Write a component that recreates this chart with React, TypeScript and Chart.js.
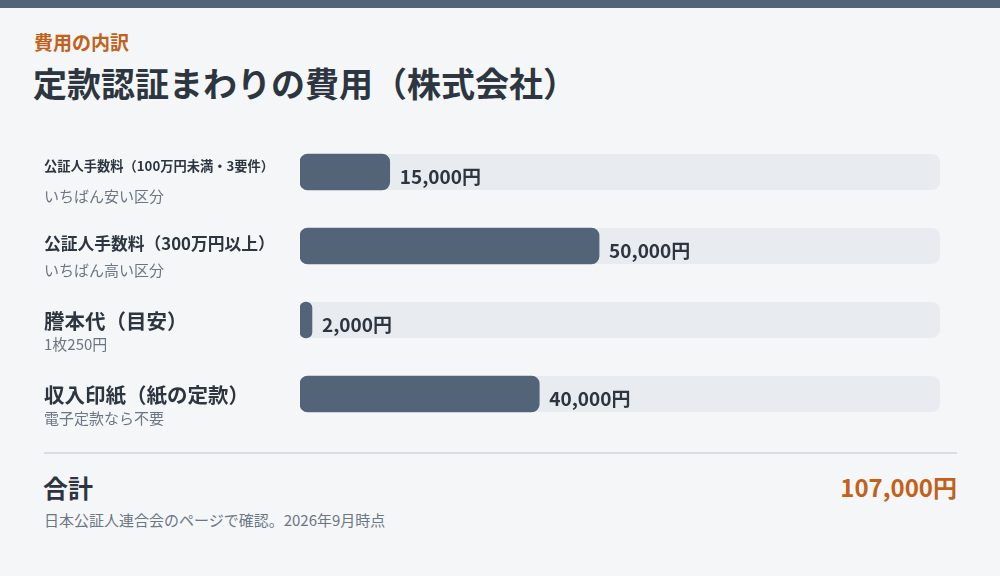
import { useEffect, useRef } from 'react';
import { Chart, registerables } from 'chart.js';

Chart.register(...registerables);

const labels = [
  '公証人手数料（100万円未満・3要件）',
  '公証人手数料（300万円以上）',
  '謄本代（目安）',
  '収入印紙（紙の定款）',
];
const notes = ['いちばん安い区分', 'いちばん高い区分', '1枚250円', '電子定款なら不要'];
const costs = [15000, 50000, 2000, 40000];
const total = 107000;

const FONT = '"Noto Sans CJK JP", "Noto Sans", sans-serif';
const COLORS = {
  bg: '#f5f6f8',
  strip: '#536479',
  bar: '#536479',
  track: '#e8ecf0',
  ink: '#2d3640',
  muted: '#6b7684',
  accent: '#c2611a',
  rule: '#d6dde4',
};

const yen = (v: number) => `${v.toLocaleString('en-US')}円`;

export default function App() {
  const canvasRef = useRef<HTMLCanvasElement>(null);

  useEffect(() => {
    if (!canvasRef.current) return;

    const chart = new Chart(canvasRef.current, {
      type: 'bar',
      data: {
        labels,
        datasets: [
          {
            data: costs,
            backgroundColor: COLORS.bar,
            borderRadius: 8,
            borderSkipped: false,
            barThickness: 36,
          },
        ],
      },
      options: {
        indexAxis: 'y',
        responsive: true,
        maintainAspectRatio: false,
        animation: false,
        layout: { padding: { left: 300, right: 60, top: 0, bottom: 0 } },
        plugins: {
          legend: { display: false },
          tooltip: { enabled: false },
        },
        scales: {
          x: { display: false, min: 0, max: total },
          y: { display: false },
        },
      },
      plugins: [
        {
          id: 'tracks',
          beforeDatasetsDraw(c) {
            const ctx = c.ctx;
            const { left, right } = c.chartArea;
            const meta = c.getDatasetMeta(0);
            ctx.save();
            ctx.fillStyle = COLORS.track;
            meta.data.forEach((bar: any) => {
              const h = bar.height;
              ctx.beginPath();
              ctx.roundRect(left, bar.y - h / 2, right - left, h, 8);
              ctx.fill();
            });
            ctx.restore();
          },
        },
        {
          id: 'rowText',
          afterDatasetsDraw(c) {
            const ctx = c.ctx;
            const meta = c.getDatasetMeta(0);
            ctx.save();
            ctx.textBaseline = 'middle';
            meta.data.forEach((bar: any, i: number) => {
              const cy = bar.y;
              // main label, shrunk to fit the left column
              let size = 20.5;
              ctx.font = `bold ${size}px ${FONT}`;
              while (ctx.measureText(labels[i]).width > 232 && size > 10) {
                size -= 0.25;
                ctx.font = `bold ${size}px ${FONT}`;
              }
              ctx.fillStyle = COLORS.ink;
              ctx.textAlign = 'left';
              ctx.fillText(labels[i], 44, cy + size - 19);

              ctx.font = `15px ${FONT}`;
              ctx.fillStyle = COLORS.muted;
              ctx.fillText(notes[i], 44, cy + 24);

              ctx.font = `bold 19px ${FONT}`;
              ctx.fillStyle = COLORS.ink;
              ctx.fillText(yen(costs[i]), bar.x + 10, cy + 5);
            });
            ctx.restore();
          },
        },
      ],
    });

    return () => chart.destroy();
  }, []);

  return (
    <div
      style={{
        position: 'fixed',
        inset: 0,
        width: 1000,
        height: 576,
        background: COLORS.bg,
        fontFamily: FONT,
        overflow: 'hidden',
      }}
    >
      <div style={{ position: 'absolute', left: 0, top: 0, width: 1000, height: 8, background: COLORS.strip }} />
      <div
        style={{
          position: 'absolute',
          left: 34,
          top: 29,
          fontSize: 19,
          lineHeight: '26px',
          fontWeight: 700,
          color: COLORS.accent,
        }}
      >
        費用の内訳
      </div>
      <div
        style={{
          position: 'absolute',
          left: 33,
          top: 61,
          fontSize: 34,
          lineHeight: '44px',
          fontWeight: 700,
          color: COLORS.ink,
        }}
      >
        定款認証まわりの費用（株式会社）
      </div>

      <div style={{ position: 'absolute', left: 0, top: 135, width: 1000, height: 296 }}>
        <canvas ref={canvasRef} />
      </div>

      <div style={{ position: 'absolute', left: 44, top: 452, width: 913, height: 2, background: COLORS.rule }} />
      <div
        style={{
          position: 'absolute',
          left: 43,
          top: 471,
          fontSize: 25,
          lineHeight: '32px',
          fontWeight: 700,
          color: COLORS.ink,
        }}
      >
        合計
      </div>
      <div
        style={{
          position: 'absolute',
          right: 43,
          top: 471,
          fontSize: 24,
          lineHeight: '32px',
          fontWeight: 700,
          color: COLORS.accent,
        }}
      >
        {yen(total)}
      </div>
      <div
        style={{
          position: 'absolute',
          left: 44,
          top: 510,
          fontSize: 15,
          lineHeight: '20px',
          color: COLORS.muted,
        }}
      >
        日本公証人連合会のページで確認。2026年9月時点
      </div>
    </div>
  );
}
